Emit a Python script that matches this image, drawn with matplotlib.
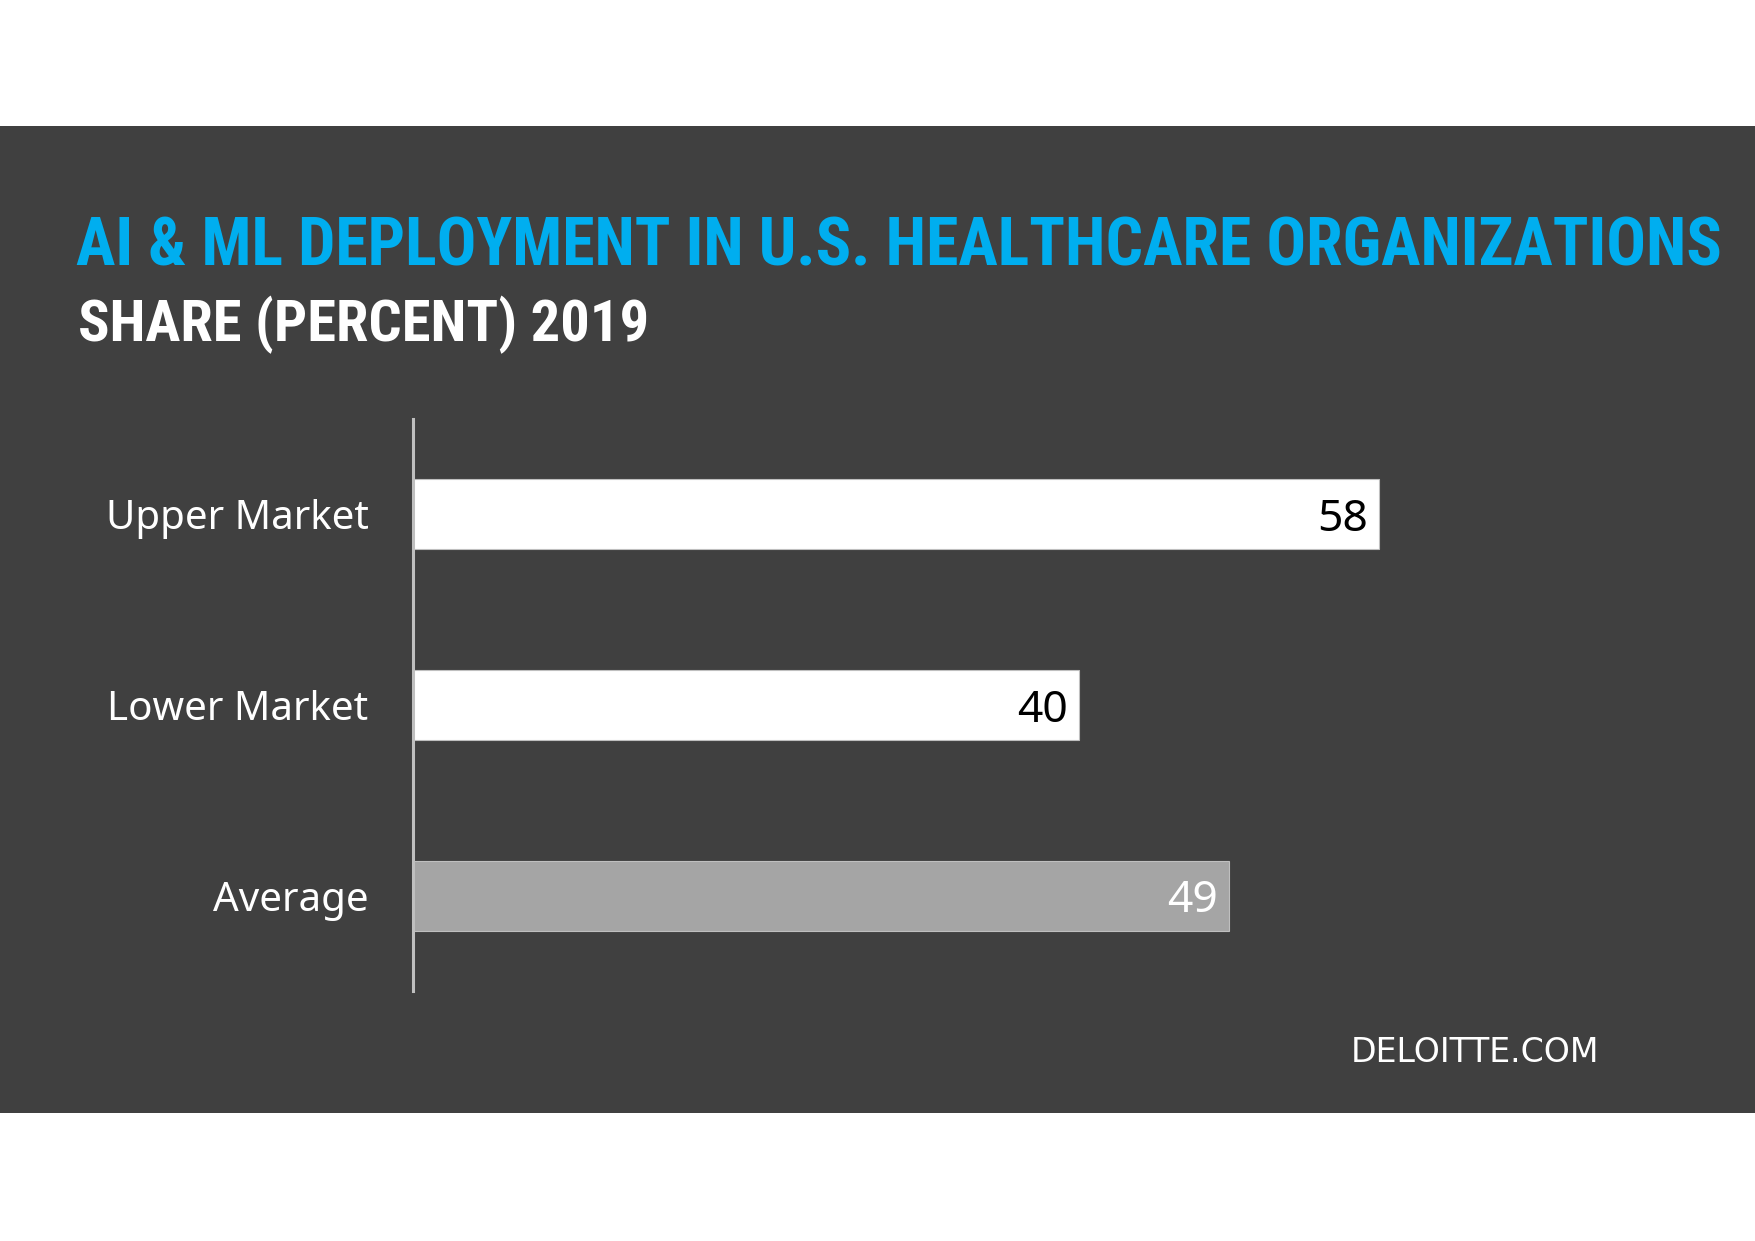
import matplotlib
matplotlib.use('Agg')
import matplotlib.pyplot as plt
from matplotlib.patches import Rectangle

categories = ['Upper Market', 'Lower Market', 'Average']
shares = [58, 40, 49]
bar_colors = ['#FFFFFF', '#FFFFFF', '#A5A5A5']
value_colors = ['#000000', '#000000', '#FFFFFF']

title = 'AI & ML DEPLOYMENT IN U.S. HEALTHCARE ORGANIZATIONS'
subtitle = 'SHARE (PERCENT) 2019'
source = 'DELOITTE.COM'

W, H = 1755, 1241
BG = '#404040'
BLUE = '#00AEEF'


def fit_width(fig, txt, target_px):
    """Scale a text's font size so it spans target_px pixels"""
    renderer = fig.canvas.get_renderer()
    for _ in range(3):
        width = txt.get_window_extent(renderer=renderer).width
        txt.set_fontsize(txt.get_fontsize() * target_px / width)


fig = plt.figure(figsize=(W / 100, H / 100), dpi=100)
fig.patch.set_facecolor('white')

# dark band behind everything
fig.patches.append(Rectangle((0, 1 - 1113 / H), 1, (1113 - 126) / H,
                             transform=fig.transFigure, facecolor=BG,
                             edgecolor='none', zorder=-5))

head_font = ['Roboto Condensed', 'Liberation Sans Narrow', 'DejaVu Sans']
t1 = fig.text(76 / W, 1 - 265 / H, title, color=BLUE, fontsize=40,
              fontweight='bold', fontstretch='condensed', family=head_font,
              ha='left', va='baseline')
t2 = fig.text(78 / W, 1 - 341 / H, subtitle, color='white', fontsize=30,
              fontweight='bold', fontstretch='condensed', family=head_font,
              ha='left', va='baseline')
t3 = fig.text(1351 / W, 1 - 1053 / H, source, color='white', fontsize=24,
              family='DejaVu Sans', ha='left', va='center')
fit_width(fig, t1, 1647)
fit_width(fig, t2, 571)
fit_width(fig, t3, 248)

# axes: 16.65 px per percent point, rows 191 px apart
px_per_unit = 16.65
xmax = 80
ax = fig.add_axes([413 / W, 1 - 991 / H, xmax * px_per_unit / W, 572 / H])
ax.set_facecolor('none')
ax.set_zorder(2)

pos = list(range(len(categories)))
ax.barh(pos, shares, height=0.367, color=bar_colors, edgecolor='#BFBFBF',
        linewidth=0.8, zorder=2)
ax.set_xlim(0, xmax)
ax.set_ylim(len(categories) - 0.5, -0.5)

for yy, val, col in zip(pos, shares, value_colors):
    ax.annotate(f'{val}', (val, yy), xytext=(-8, 0), textcoords='offset points',
                ha='right', va='center_baseline', color=col, fontsize=32,
                family='Noto Sans', zorder=3)

ax.set_yticks(pos)
ax.set_yticklabels(categories, color='white', fontsize=29, family='Noto Sans')
ax.tick_params(axis='y', length=0, pad=32)
ax.set_xticks([])

for side in ['top', 'right', 'bottom']:
    ax.spines[side].set_visible(False)
ax.spines['left'].set_color('#BFBFBF')
ax.spines['left'].set_linewidth(2.2)

fig.savefig('out.png', dpi=100, facecolor=fig.get_facecolor())
